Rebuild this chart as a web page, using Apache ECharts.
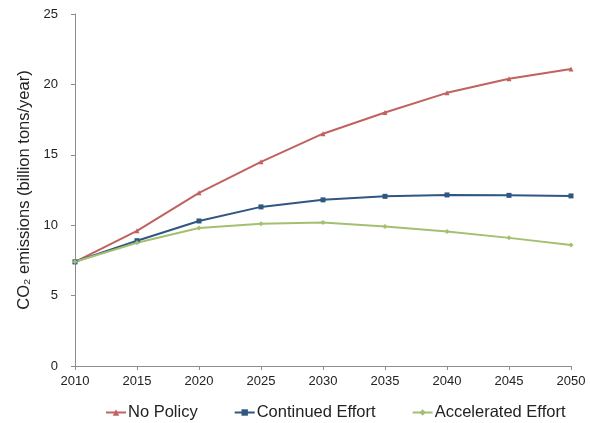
<!DOCTYPE html>
<html><head><meta charset="utf-8">
<script src="https://cdn.jsdelivr.net/npm/echarts@6/dist/echarts.min.js"></script>
<style>html,body{margin:0;padding:0;background:#fff}#c{width:590px;height:423px}</style>
</head><body><div id="c"></div>
<script>
var years = ['2010','2015','2020','2025','2030','2035','2040','2045','2050'];
var noPolicy = [7.4, 9.6, 12.3, 14.5, 16.5, 18.0, 19.4, 20.4, 21.1];
var continuedEffort = [7.4, 8.9, 10.3, 11.3, 11.8, 12.05, 12.15, 12.12, 12.08];
var acceleratedEffort = [7.4, 8.75, 9.8, 10.1, 10.2, 9.9, 9.55, 9.1, 8.6];
var yTicks = {min: 0, max: 25, interval: 5};

var chart = echarts.init(document.getElementById('c'));
var font = 'Liberation Sans, Arial, Helvetica, sans-serif';
function s(name, data, color, symbol, size) {
  return {name: name, type: 'line', data: data, symbol: symbol, symbolSize: size,
    showSymbol: true, lineStyle: {color: color, width: 2}, itemStyle: {color: color},
    emphasis: {disabled: true}};
}
chart.setOption({
  animation: false,
  grid: {left: 75, right: 19, top: 14, bottom: 57},
  xAxis: {type: 'category', data: years, boundaryGap: false,
    axisLine: {lineStyle: {color: '#8c8c8c', width: 1}},
    axisTick: {show: true, alignWithLabel: true, length: 4, lineStyle: {color: '#8c8c8c'}},
    axisLabel: {color: '#222', fontFamily: font, fontSize: 13, margin: 9},
    splitLine: {show: false}},
  yAxis: {type: 'value', min: yTicks.min, max: yTicks.max, interval: yTicks.interval,
    name: 'CO₂ emissions (billion tons/year)', nameLocation: 'middle', nameGap: 42,
    nameTextStyle: {color: '#222', fontFamily: font, fontSize: 16.5},
    axisLine: {show: true, lineStyle: {color: '#8c8c8c', width: 1}},
    axisTick: {show: true, length: 4, lineStyle: {color: '#8c8c8c'}},
    axisLabel: {color: '#222', fontFamily: font, fontSize: 13, margin: 17},
    splitLine: {show: false}},
  legend: {top: 399, left: 100, itemWidth: 20, itemHeight: 8, itemGap: 36,
    textStyle: {color: '#222', fontFamily: font, fontSize: 16.5, padding: [0,0,0,-3]},
    data: ['No Policy', 'Continued Effort', 'Accelerated Effort']},
  series: [
    s('No Policy', noPolicy, '#c0625f', 'triangle', 5),
    s('Continued Effort', continuedEffort, '#2f5780', 'rect', 5),
    s('Accelerated Effort', acceleratedEffort, '#a3c072', 'diamond', 5)
  ]
});
</script></body></html>
